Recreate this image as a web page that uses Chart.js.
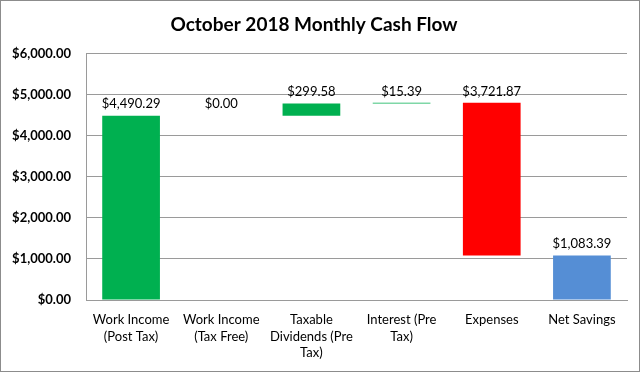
<!DOCTYPE html>
<html>
<head>
<meta charset="utf-8">
<script src="https://cdn.jsdelivr.net/npm/chart.js@4/dist/chart.umd.min.js"></script>
<style>
  body { margin: 0; background: #fff; }
  #frame { width: 640px; height: 372px; box-sizing: border-box; border: 1px solid #8c8c8c; }
  canvas { display: block; }
</style>
</head>
<body>
<div id="frame"><canvas id="cashflow" width="638" height="370"></canvas></div>
<script>
// categories (wrapped into lines like the original axis)
const categories = [
  ['Work Income', '(Post Tax)'],
  ['Work Income', '(Tax Free)'],
  ['Taxable', 'Dividends (Pre', 'Tax)'],
  ['Interest (Pre', 'Tax)'],
  ['Expenses'],
  ['Net Savings']
];
// amounts shown on the labels
const amounts = [4490.29, 0.00, 299.58, 15.39, 3721.87, 1083.39];
// how each step moves the running total: up, down or a total bar
const steps = ['up', 'up', 'up', 'up', 'down', 'total'];
const barColors = ['#00b050', '#00b050', '#00b050', '#00b050', '#ff0000', '#558ed5'];
const yTicks = [0, 1000, 2000, 3000, 4000, 5000, 6000];

// build floating [from, to] ranges for the waterfall
let running = 0;
const ranges = amounts.map((amt, i) => {
  if (steps[i] === 'total') return [0, amt];
  const start = running;
  running = steps[i] === 'up' ? running + amt : running - amt;
  return [start, running];
});

const money = v => '$' + v.toLocaleString('en-US', { minimumFractionDigits: 2, maximumFractionDigits: 2 });

const font = 'Lato, "Open Sans", sans-serif';

// labels above each bar
const barLabels = {
  id: 'barLabels',
  afterDatasetsDraw(chart) {
    const ctx = chart.ctx;
    const meta = chart.getDatasetMeta(0);
    ctx.save();
    ctx.font = '13px ' + font;
    ctx.fillStyle = '#000';
    ctx.textAlign = 'center';
    ctx.textBaseline = 'bottom';
    meta.data.forEach((bar, i) => {
      const top = Math.min(bar.y, bar.base);
      ctx.fillText(money(amounts[i]), bar.x, top - 5);
    });
    ctx.restore();
  }
};

const chartId = document.getElementById('cashflow').getContext('2d');

const myChart = new Chart(chartId, {
  type: 'bar',
  data: {
    labels: categories,
    datasets: [{
      data: ranges,
      backgroundColor: barColors,
      borderWidth: 0,
      barPercentage: 0.64,
      categoryPercentage: 1
    }]
  },
  options: {
    responsive: false,
    animation: false,
    layout: { padding: { left: 0, right: 12, top: 0, bottom: 0 } },
    plugins: {
      legend: { display: false },
      tooltip: { enabled: false },
      title: {
        display: true,
        text: 'October 2018 Monthly Cash Flow',
        color: '#000',
        font: { family: font, size: 19, weight: 'bold' },
        padding: { top: 12, bottom: 18 }
      }
    },
    scales: {
      x: {
        grid: { display: false, drawTicks: false },
        border: { color: '#9a9a9a', width: 1 },
        ticks: {
          color: '#000',
          autoSkip: false,
          maxRotation: 0,
          padding: 11,
          font: { family: font, size: 13, lineHeight: 1.3 }
        },
        afterFit(scale) { scale.height = 71; }
      },
      y: {
        min: 0,
        max: 6000,
        afterBuildTicks(scale) { scale.ticks = yTicks.map(v => ({ value: v })); },
        grid: { color: '#9a9a9a', drawTicks: false },
        border: { color: '#9a9a9a', width: 1 },
        ticks: {
          color: '#000',
          padding: 15,
          font: { family: font, size: 13, weight: 'bold' },
          callback: v => money(v)
        },
        afterFit(scale) { scale.width = 85; }
      }
    }
  },
  plugins: [barLabels]
});
</script>
</body>
</html>
